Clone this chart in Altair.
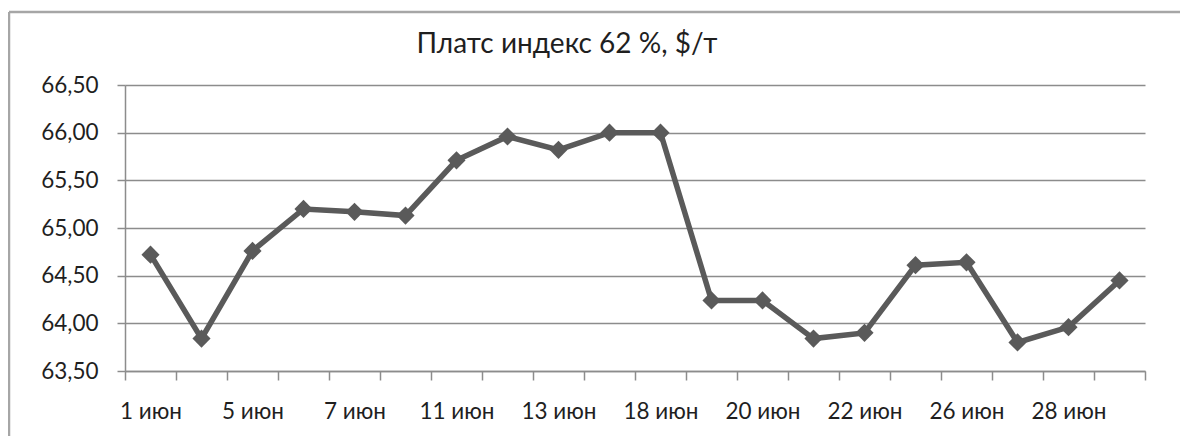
import json
import altair as alt
import pandas as pd

# ---- data ----
dates = ["1 июн", "4 июн", "5 июн", "6 июн", "7 июн", "8 июн", "11 июн", "12 июн",
         "13 июн", "14 июн", "18 июн", "19 июн", "20 июн", "21 июн", "22 июн",
         "25 июн", "26 июн", "27 июн", "28 июн", "29 июн"]
values = [64.72, 63.84, 64.76, 65.20, 65.17, 65.13, 65.71, 65.96, 65.82, 66.00,
          66.00, 64.24, 64.24, 63.84, 63.90, 64.61, 64.64, 63.80, 63.96, 64.45]
y_ticks = [63.5, 64.0, 64.5, 65.0, 65.5, 66.0, 66.5]
title_text = "Платс индекс 62 %, $/т"

df = pd.DataFrame({"date": dates, "value": values})

FONT = "Lato"
GRID = "#8c8c8c"
LINE = "#5a5a5a"
TEXT = "#1f1f1f"

x_label_expr = (
    "indexof(" + json.dumps(dates, ensure_ascii=False) + ", datum.value) % 2 == 0 ? datum.value : ''"
)

x_enc = alt.X(
    "date:N",
    sort=dates,
    bandPosition=0.5,
    scale=alt.Scale(type="band", paddingInner=0, paddingOuter=0),
    axis=alt.Axis(
        title=None, labelAngle=0, tickBand="extent", labelExpr=x_label_expr,
        tickSize=9, tickColor=GRID, tickWidth=1.5, domainColor=GRID, domainWidth=1.5,
        labelFont=FONT, labelFontSize=22.5, labelColor=TEXT, labelPadding=20,
        grid=False,
    ),
)
y_enc = alt.Y(
    "value:Q",
    scale=alt.Scale(domain=[63.5, 66.5], nice=False, zero=False),
    axis=alt.Axis(
        title=None, values=y_ticks,
        labelExpr="replace(format(datum.value, '.2f'), '.', ',')",
        tickSize=8, tickColor=GRID, tickWidth=1.5, domainColor=GRID, domainWidth=1.5,
        gridColor=GRID, gridWidth=1.5, grid=True,
        labelFont=FONT, labelFontSize=22.5, labelColor=TEXT, labelPadding=19,
    ),
)

base = alt.Chart(df)
line = base.mark_line(color=LINE, strokeWidth=5.5).encode(x=x_enc, y=y_enc)
pts = base.mark_point(shape="diamond", filled=True, color=LINE, size=330, opacity=1).encode(
    x=alt.X("date:N", sort=dates, bandPosition=0.5), y="value:Q"
)

one = pd.DataFrame({"t": [title_text]})
title = alt.Chart(one).mark_text(
    font=FONT, fontSize=28, color=TEXT, align="center", baseline="alphabetic"
).encode(text="t:N", x=alt.value(442), y=alt.value(-32))

border_top = alt.Chart(one).mark_rule(color="#a6a6a6", strokeWidth=2.5).encode(
    x=alt.value(-116), x2=alt.value(1060), y=alt.value(-73)
)
border_left = alt.Chart(one).mark_rule(color="#a6a6a6", strokeWidth=2.5).encode(
    x=alt.value(-116), y=alt.value(-73), y2=alt.value(360)
)

chart = (
    alt.layer(border_top, border_left, line, pts, title)
    .properties(
        width=1020, height=286,
        autosize=alt.AutoSizeParams(type="none"),
        padding={"left": 117, "top": 77, "right": 35, "bottom": 65},
    )
    .configure_view(stroke=None)
)

chart.save("out.html", embed_options={"renderer": "svg", "actions": False})
